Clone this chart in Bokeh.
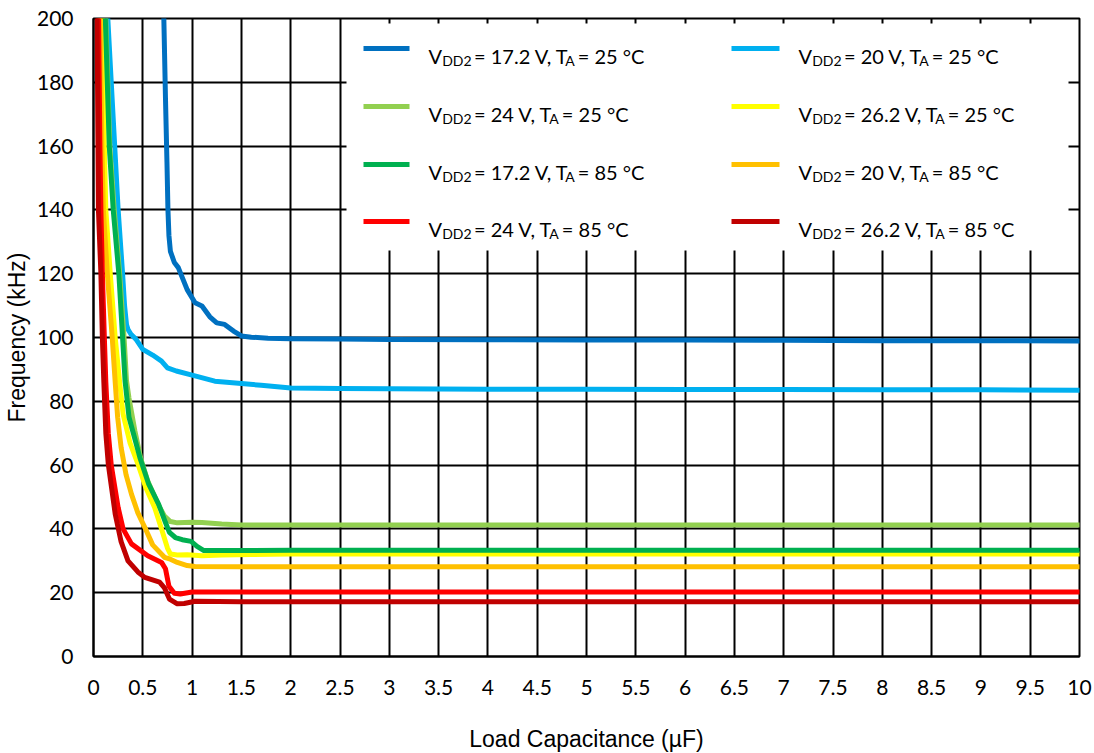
from bokeh.plotting import figure
from bokeh.models import ColumnDataSource, Range1d, FixedTicker
from bokeh.core.properties import value
from bokeh.embed import file_html
from bokeh.resources import INLINE

# ---------------- data ----------------
x_ticks = [0, 0.5, 1, 1.5, 2, 2.5, 3, 3.5, 4, 4.5, 5, 5.5, 6, 6.5, 7, 7.5, 8, 8.5, 9, 9.5, 10]
y_ticks = [0, 20, 40, 60, 80, 100, 120, 140, 160, 180, 200]

# VDD2 = 17.2 V, TA = 25 C
cap_17v_25c = [0.71, 0.73, 0.745, 0.755, 0.765, 0.78, 0.82, 0.86, 0.95, 1.03, 1.10, 1.18, 1.25, 1.33, 1.42, 1.50, 1.60, 1.77, 2.0, 2.5, 3, 4, 5, 6, 7, 8, 9, 10]
freq_17v_25c = [205, 175, 155, 140, 132, 127, 123.5, 121.9, 115, 110.9, 109.9, 106.5, 104.6, 104.1, 102, 100.5, 100.1, 99.8, 99.6, 99.5, 99.4, 99.3, 99.2, 99.2, 99.1, 99.0, 99.0, 98.9]
# VDD2 = 20 V, TA = 25 C
cap_20v_25c = [0.13, 0.145, 0.18, 0.215, 0.25, 0.295, 0.315, 0.335, 0.35, 0.38, 0.43, 0.50, 0.60, 0.69, 0.75, 0.84, 1.0, 1.23, 1.5, 1.7, 2.0, 2.5, 3, 4, 5, 6, 7, 8, 9, 10]
freq_20v_25c = [205, 200, 180, 160, 140, 120, 110, 104, 102.5, 101, 99.5, 96.3, 94.5, 92.6, 90.5, 89.5, 88.2, 86.3, 85.6, 85.0, 84.2, 84.0, 83.9, 83.8, 83.8, 83.7, 83.7, 83.6, 83.6, 83.5]
# VDD2 = 24 V, TA = 25 C
cap_24v_25c = [0.12, 0.165, 0.21, 0.265, 0.31, 0.335, 0.36, 0.42, 0.48, 0.55, 0.65, 0.72, 0.78, 0.85, 1.0, 1.1, 1.3, 1.5, 2, 3, 5, 7, 10]
freq_24v_25c = [205, 160, 140, 120, 100, 86.4, 81, 70.7, 62, 55, 48, 44, 42.3, 41.9, 42.1, 42.0, 41.5, 41.2, 41.2, 41.2, 41.2, 41.2, 41.2]
# VDD2 = 26.2 V, TA = 25 C
cap_26v_25c = [0.085, 0.11, 0.125, 0.17, 0.22, 0.265, 0.30, 0.37, 0.45, 0.53, 0.62, 0.69, 0.75, 0.78, 0.85, 0.95, 1.1, 1.3, 1.6, 2, 3, 5, 7, 10]
freq_26v_25c = [205, 160, 140, 120, 100, 86, 76, 67, 60.4, 53, 46.7, 40, 34, 32.1, 31.8, 31.9, 31.6, 31.8, 32.0, 32.1, 32.1, 32.1, 32.1, 32.1]
# VDD2 = 17.2 V, TA = 85 C
cap_17v_85c = [0.115, 0.16, 0.20, 0.257, 0.295, 0.32, 0.36, 0.47, 0.56, 0.66, 0.73, 0.77, 0.83, 0.90, 0.99, 1.05, 1.12, 1.3, 2, 3, 5, 7, 10]
freq_17v_85c = [205, 160, 140, 120, 100, 86.4, 75, 62.4, 54, 47.8, 42, 38.9, 37.3, 36.6, 36.1, 34.5, 33.2, 33.2, 33.3, 33.3, 33.3, 33.3, 33.3]
# VDD2 = 20 V, TA = 85 C
cap_20v_85c = [0.065, 0.085, 0.10, 0.14, 0.19, 0.22, 0.245, 0.28, 0.33, 0.385, 0.45, 0.52, 0.60, 0.72, 0.78, 0.85, 0.95, 1.03, 1.5, 2, 3, 5, 7, 10]
freq_20v_85c = [205, 160, 140, 120, 100, 86, 75, 65.5, 57, 50.9, 45, 40.5, 35, 31.1, 30.5, 29.5, 28.5, 28.2, 28.1, 28.1, 28.1, 28.1, 28.1, 28.1]
# VDD2 = 24 V, TA = 85 C
cap_24v_85c = [0.05, 0.065, 0.075, 0.09, 0.11, 0.125, 0.15, 0.18, 0.25, 0.30, 0.385, 0.55, 0.69, 0.73, 0.765, 0.82, 0.88, 1.0, 1.5, 2, 3, 5, 7, 10]
freq_24v_85c = [205, 160, 140, 120, 100, 86, 70, 60, 46.7, 40, 35.3, 31.6, 29.5, 27.5, 22, 19.8, 19.6, 20.2, 20.2, 20.2, 20.2, 20.2, 20.2, 20.2]
# VDD2 = 26.2 V, TA = 85 C
cap_26v_85c = [0.035, 0.05, 0.075, 0.09, 0.105, 0.125, 0.15, 0.22, 0.28, 0.35, 0.45, 0.52, 0.67, 0.72, 0.77, 0.85, 0.92, 1.03, 1.5, 2, 3, 5, 7, 10]
freq_26v_85c = [205, 140, 120, 100, 86, 70, 60.3, 44.7, 36, 30, 26.5, 24.8, 23.3, 21.5, 18, 16.5, 16.6, 17.3, 17.2, 17.2, 17.2, 17.2, 17.2, 17.2]

series_vdd2 = ["17.2", "20", "24", "26.2", "17.2", "20", "24", "26.2"]
series_ta = ["25", "25", "25", "25", "85", "85", "85", "85"]
series_colors = ["#0070C0", "#00B0F0", "#92D050", "#FFFF00", "#00B050", "#FFC000", "#FF0000", "#C00000"]
series_caps = [cap_17v_25c, cap_20v_25c, cap_24v_25c, cap_26v_25c, cap_17v_85c, cap_20v_85c, cap_24v_85c, cap_26v_85c]
series_freqs = [freq_17v_25c, freq_20v_25c, freq_24v_25c, freq_26v_25c, freq_17v_85c, freq_20v_85c, freq_24v_85c, freq_26v_85c]

# ---------------- figure ----------------
FW, FH = 986, 638
X0, X1, Y0, Y1 = 0, 10, 0, 200
p = figure(frame_width=FW, frame_height=FH,
           x_range=Range1d(X0, X1), y_range=Range1d(Y0, Y1),
           output_backend="svg", toolbar_location=None,
           min_border_left=88, min_border_top=18, min_border_right=18, min_border_bottom=96,
           background_fill_color="white", border_fill_color="white")

p.outline_line_color = "black"
p.outline_line_width = 2
p.outline_line_alpha = 1

for ax in (p.xaxis, p.yaxis):
    ax.axis_line_color = "black"
    ax.axis_line_width = 2
    ax.major_tick_out = 0
    ax.major_tick_in = 0
    ax.minor_tick_out = 0
    ax.minor_tick_in = 0
    ax.major_label_text_font = "Lato"
    ax.major_label_text_font_size = "21px"
    ax.major_label_text_color = "black"
    ax.axis_label_text_font = "Liberation Sans"
    ax.axis_label_text_font_size = "23px"
    ax.axis_label_text_font_style = "normal"
    ax.axis_label_text_color = "black"

p.xaxis.ticker = FixedTicker(ticks=x_ticks)
p.yaxis.ticker = FixedTicker(ticks=y_ticks)
p.xaxis.major_label_overrides = {t: (str(int(t)) if float(t).is_integer() else str(t)) for t in x_ticks}
p.xaxis.major_label_standoff = 23
p.yaxis.major_label_standoff = 20
p.xaxis.axis_label = "Load Capacitance (µF)"
p.yaxis.axis_label = "Frequency (kHz)"
p.xaxis.axis_label_standoff = 28
p.yaxis.axis_label_standoff = 4

p.xgrid.ticker = FixedTicker(ticks=x_ticks)
p.ygrid.ticker = FixedTicker(ticks=y_ticks)
for g in (p.xgrid, p.ygrid):
    g.grid_line_color = "black"
    g.grid_line_width = 2
    g.grid_line_alpha = 1

# curves
for xs, ys, c in zip(series_caps, series_freqs, series_colors):
    p.line(xs, ys, line_color=c, line_width=5, line_join="round", line_cap="round")

# ---------------- legend (drawn by hand for subscripts) ----------------
px_per_x = FW / (X1 - X0)
px_per_y = FH / (Y1 - Y0)
def dx(px):
    return px / px_per_x
def dy(px):
    return px / px_per_y

# legend box in screen offsets from frame top-left
box_l, box_r, box_t, box_b = 253, 975, 5, 232
p.quad(left=[dx(box_l)], right=[dx(box_r)], top=[Y1 - dy(box_t)], bottom=[Y1 - dy(box_b)],
       fill_color="white", line_color=None)

row_off = [30, 88, 146, 203]
col_sw = [(270, 316), (638, 686)]
col_txt = [335, 705]

W = {' ': 0.2, '=': 0.58, '.': 0.21, ',': 0.21, 'V': 0.66, 'T': 0.53, 'D': 0.74,
     'A': 0.68, 'C': 0.67, '°': 0.39}
def tw(s, size):
    return sum(W.get(ch, 0.58) for ch in s) * size

MAIN, SUB = 20, 14
seg_x0, seg_y0, seg_x1 = [], [], []
seg_c = []
main_x, main_y, main_t = [], [], []
sub_x, sub_y, sub_t = [], [], []
for i, (v, t, c) in enumerate(zip(series_vdd2, series_ta, series_colors)):
    col = i % 2
    row = i // 2
    ry = row_off[row]
    seg_x0.append(dx(col_sw[col][0])); seg_x1.append(dx(col_sw[col][1])); seg_y0.append(Y1 - dy(ry)); seg_c.append(c)
    xpos = col_txt[col]
    base_main = Y1 - dy(ry + 7)
    base_sub = Y1 - dy(ry + 12)
    pieces = [("V", False), ("DD2", True), ("= %s V, T" % v, False), ("A", True), ("= %s °C" % t, False)]
    for s, is_sub in pieces:
        if is_sub:
            sub_x.append(dx(xpos)); sub_y.append(base_sub); sub_t.append(s)
            xpos += tw(s, SUB) + 3
        else:
            main_x.append(dx(xpos)); main_y.append(base_main); main_t.append(s)
            xpos += tw(s, MAIN) + 0.5

p.segment(x0=seg_x0, y0=seg_y0, x1=seg_x1, y1=seg_y0, line_color=seg_c, line_width=5)
p.text(x=main_x, y=main_y, text=main_t, text_font=value("Lato"), text_font_size="20px",
       text_baseline="alphabetic", text_align="left", text_color="black")
p.text(x=sub_x, y=sub_y, text=sub_t, text_font=value("Lato"), text_font_size="14px",
       text_baseline="alphabetic", text_align="left", text_color="black")

open("out.html", "w").write(file_html(p, INLINE))
